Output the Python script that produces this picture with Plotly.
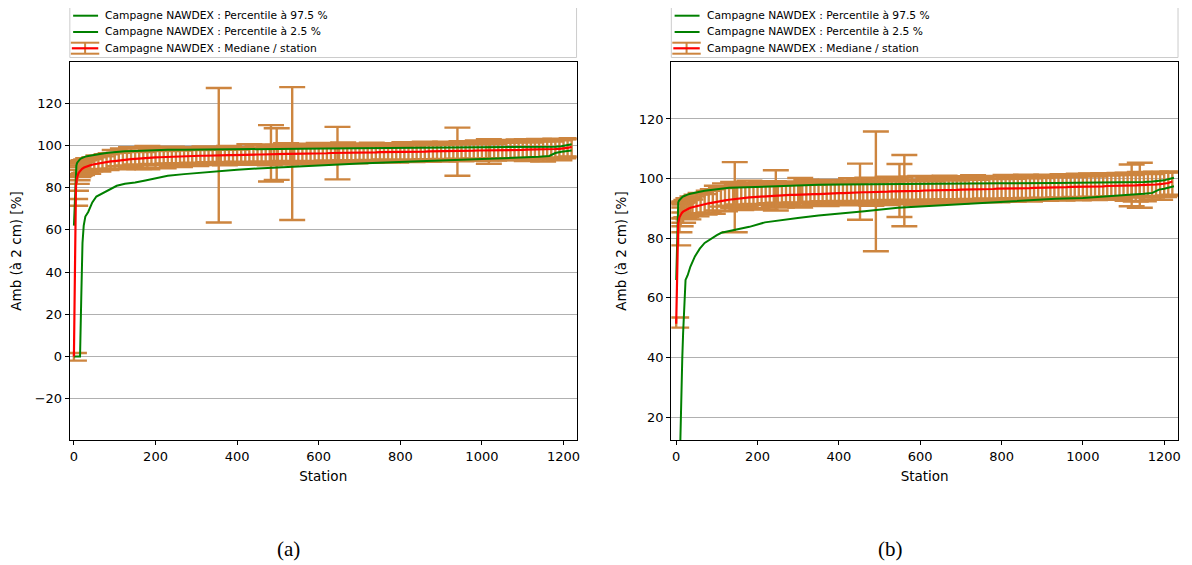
import plotly.graph_objects as go

# The page body has an 8 px margin: the figure is drawn 8 px right/down of the window corner.
OFF = 8
W, H = 1192 - OFF, 565 - OFF
ORANGE = "#CD853F"
GREEN = "#008000"
RED = "#FF0000"
FONT = "DejaVu Sans"


def px(x):
    return (x - OFF) / W


def py(y):
    return 1 - (y - OFF) / H


# ---------------- Panel (a) ----------------
st_a = [0, 3, 5, 7, 9, 11, 14, 17, 20, 25, 30, 35, 40, 50, 60, 70, 80, 90] + list(range(100, 1221, 10))
med_a = [0.0, 73.0, 80.8, 84.2, 85.8, 86.8, 87.6, 88.3, 88.9, 89.5, 89.9, 90.3, 90.6, 91.1, 91.5, 91.8, 92.1, 92.4,
         92.6, 92.9, 93.1, 93.3, 93.5, 93.6, 93.8, 93.9, 94.0, 94.1,
         94.3, 94.4, 94.5, 94.6, 94.6, 94.7, 94.8, 94.8, 94.9, 95.0,
         95.0, 95.1, 95.1, 95.2, 95.2, 95.3, 95.3, 95.4, 95.4, 95.4,
         95.5, 95.5, 95.6, 95.6, 95.6, 95.7, 95.7, 95.8, 95.8, 95.8,
         95.9, 95.9, 96.0, 96.0, 96.0, 96.1, 96.1, 96.2, 96.2, 96.2,
         96.3, 96.3, 96.3, 96.4, 96.4, 96.4, 96.5, 96.5, 96.5, 96.6,
         96.6, 96.6, 96.7, 96.7, 96.7, 96.8, 96.8, 96.8, 96.9, 96.9,
         96.9, 97.0, 97.0, 97.0, 97.1, 97.1, 97.1, 97.2, 97.2, 97.2,
         97.3, 97.3, 97.3, 97.4, 97.4, 97.4, 97.5, 97.5, 97.5, 97.6,
         97.6, 97.6, 97.7, 97.7, 97.7, 97.8, 97.8, 97.8, 97.9, 97.9,
         97.9, 98.0, 98.0, 98.0, 98.1, 98.1, 98.2, 98.2, 98.3, 98.4,
         98.5, 98.8, 99.3]
lo_a = [-1.9, 71.4, 78.5, 81.8, 83.5, 85.0, 85.6, 86.3, 86.0, 86.8, 87.2, 86.5, 87.8, 88.0, 87.6, 88.8, 88.3, 89.0,
        89.0, 90.2, 88.7, 90.5, 89.9, 91.0, 88.8, 90.6, 88.7, 91.2,
        89.5, 90.8, 89.2, 91.4, 90.1, 91.6, 89.8, 91.0, 90.4, 91.8,
        90.2, 91.5, 90.7, 92.0, 90.9, 91.3, 92.2, 90.6, 91.7, 91.0,
        92.3, 91.2, 90.8, 92.1, 91.6, 90.9, 92.4, 91.4, 90.6, 92.0,
        91.3, 92.6, 90.9, 91.8, 92.3, 91.1, 92.7, 91.6, 92.1, 91.0,
        92.5, 91.7, 92.9, 91.3, 92.2, 91.8, 93.0, 91.9, 92.4, 91.5,
        92.8, 92.0, 93.1, 91.8, 92.6, 92.2, 93.3, 92.0, 92.8, 91.9,
        93.0, 92.3, 93.4, 92.1, 92.9, 92.5, 93.5, 92.2, 93.1, 92.6,
        93.6, 92.4, 93.2, 92.8, 93.7, 92.5, 93.3, 92.9, 93.8, 92.7,
        93.4, 93.0, 93.9, 92.8, 93.5, 93.1, 94.0, 92.9, 93.6, 93.2,
        94.1, 92.6, 93.7, 93.3, 94.2, 92.4, 93.8, 93.4, 94.3, 93.0,
        93.9, 94.5, 94.8]
hi_a = [1.7, 74.6, 86.5, 88.3, 89.6, 90.5, 91.4, 92.2, 92.8, 93.0, 93.4, 93.9, 93.5, 94.4, 95.2, 94.8, 95.8, 96.3,
        97.8, 96.5, 98.6, 97.2, 99.2, 97.6, 98.9, 96.9, 99.8, 98.1,
        97.4, 99.0, 98.2, 97.3, 99.4, 98.0, 97.6, 98.8, 97.9, 99.1,
        98.3, 97.8, 99.5, 98.4, 97.9, 99.0, 98.6, 98.1, 99.7, 98.5,
        98.0, 99.3, 98.7, 100.6, 98.4, 99.9, 98.9, 100.4, 99.1, 98.6,
        100.2, 99.4, 101.0, 98.8, 99.8, 100.5, 99.2, 98.9, 100.8, 99.6,
        101.2, 99.3, 100.1, 99.0, 100.7, 99.5, 101.4, 99.8, 100.3, 99.2,
        100.9, 99.7, 100.2, 101.3, 99.6, 100.6, 99.9, 101.1, 100.0, 100.8,
        99.7, 101.5, 100.4, 99.9, 101.0, 100.5, 101.7, 100.1, 100.9, 101.3,
        100.3, 101.8, 100.7, 101.2, 100.5, 102.0, 100.9, 101.4, 100.6, 102.3,
        101.1, 101.6, 102.4, 100.8, 101.9, 102.6, 101.2, 102.1, 101.5, 102.8,
        101.7, 102.9, 101.4, 102.5, 103.1, 102.0, 102.7, 101.8, 103.2, 102.4,
        102.9, 103.0, 103.4]

out_st_a = [355, 483, 497, 535, 646, 940, 1017]
out_med_a = [95.3, 95.8, 95.9, 96.0, 96.4, 97.4, 97.6]
out_lo_a = [63.5, 82.9, 83.7, 64.7, 83.9, 85.6, 91.3]
out_hi_a = [127.2, 109.6, 108.1, 127.6, 108.8, 108.4, 102.9]

pst_a = [0, 3, 6, 8, 10, 12, 15, 18, 21, 24, 28, 35, 45, 55, 65, 75, 90, 105, 125, 150, 175, 200, 230, 270,
         310, 350, 400, 450, 500, 560, 620, 700, 780, 850, 920, 1000, 1080, 1140, 1165, 1180, 1195, 1210, 1220]
p975_a = [62, 80, 90.5, 91.8, 92.4, 92.9, 93.5, 93.9, 94.2, 94.4, 94.7, 95.0, 95.4, 95.7, 96.0, 96.3, 96.6,
          97.0, 97.2, 97.4, 97.6, 97.8, 97.9, 98.0, 98.1, 98.2, 98.25, 98.3, 98.35, 98.4, 98.5, 98.6, 98.7,
          98.75, 98.8, 98.9, 99.0, 99.1, 99.3, 99.4, 99.6, 100.0, 100.6]
p025_a = [0, 0, 0, 0, 0, 0, 0, 28, 53.8, 62, 66.3, 68.5, 73, 75.8, 76.8, 77.8, 79.2, 80.9, 81.8, 82.4, 83.4,
          84.4, 85.6, 86.4, 87.1, 87.8, 88.5, 89.1, 89.6, 90.2, 90.8, 91.4, 92.0, 92.5, 93.0, 93.5, 94.0,
          94.6, 95.0, 96.4, 97.0, 97.3, 97.6]

# ---------------- Panel (b) ----------------
st_b = [0, 2, 5, 8, 11, 14, 17, 20, 25, 30, 35, 40, 50, 60, 70, 80, 90] + list(range(100, 1221, 10))
med_b = [51.3, 66.0, 85.0, 87.0, 88.0, 88.5, 88.9, 89.2, 89.6, 89.9, 90.2, 90.4, 90.8, 91.1, 91.4, 91.7, 92.0,
         92.2, 92.5, 92.7, 92.9, 93.1, 93.3, 93.4, 93.5, 93.7, 93.8,
         93.9, 94.0, 94.1, 94.2, 94.2, 94.3, 94.4, 94.4, 94.5, 94.5,
         94.6, 94.6, 94.7, 94.7, 94.8, 94.8, 94.9, 94.9, 95.0, 95.0,
         95.1, 95.1, 95.2, 95.2, 95.3, 95.3, 95.4, 95.4, 95.4, 95.5,
         95.5, 95.6, 95.6, 95.7, 95.7, 95.7, 95.8, 95.8, 95.9, 95.9,
         95.9, 96.0, 96.0, 96.0, 96.1, 96.1, 96.1, 96.2, 96.2, 96.2,
         96.3, 96.3, 96.3, 96.4, 96.4, 96.4, 96.5, 96.5, 96.5, 96.6,
         96.6, 96.6, 96.7, 96.7, 96.7, 96.8, 96.8, 96.8, 96.9, 96.9,
         96.9, 97.0, 97.0, 97.0, 97.1, 97.1, 97.1, 97.2, 97.2, 97.2,
         97.3, 97.3, 97.3, 97.4, 97.4, 97.4, 97.5, 97.5, 97.5, 97.6,
         97.6, 97.6, 97.7, 97.7, 97.8, 97.8, 97.9, 97.9, 98.0, 98.1,
         98.2, 98.5, 99.0]
lo_b = [50.0, None, 77.6, 82.0, 84.0, 86.6, 85.2, 86.8, 87.0, 86.3, 87.6, 88.0, 87.3, 88.4, 87.9, 88.6, 88.2,
        89.3, 90.6, 89.0, 90.9, 90.2, 91.3, 89.4, 90.8, 89.8, 91.5,
        90.1, 91.2, 89.6, 91.7, 90.5, 91.9, 90.3, 91.4, 90.7, 92.0,
        90.6, 91.8, 90.9, 92.2, 91.1, 91.6, 92.4, 90.8, 91.9, 91.3,
        92.5, 91.4, 91.0, 92.3, 91.8, 91.2, 92.6, 91.6, 90.9, 92.2,
        91.5, 92.8, 91.1, 92.0, 92.5, 91.4, 92.9, 91.8, 92.3, 91.2,
        92.7, 91.9, 93.0, 91.5, 92.4, 92.0, 93.1, 92.1, 92.6, 91.7,
        92.9, 92.2, 93.2, 92.0, 92.7, 92.3, 93.3, 92.1, 92.9, 92.0,
        93.1, 92.4, 93.4, 92.2, 93.0, 92.6, 93.5, 92.3, 93.1, 92.7,
        93.6, 92.5, 93.2, 92.8, 93.7, 92.6, 93.3, 92.9, 93.8, 92.7,
        93.4, 93.0, 93.9, 92.8, 93.5, 93.1, 94.0, 92.9, 93.6, 93.2,
        94.0, 92.5, 93.6, 92.3, 94.1, 92.4, 93.7, 93.0, 94.2, 92.9,
        93.8, 94.3, 94.6]
hi_b = [53.4, None, 88.6, 90.3, 91.3, 91.8, 92.3, 92.0, 92.8, 93.4, 93.0, 94.0, 94.6, 95.2, 94.8, 95.9, 96.4,
        97.6, 96.8, 98.4, 97.3, 98.9, 97.9, 98.6, 97.2, 99.3, 98.1,
        97.7, 98.8, 98.2, 97.5, 99.1, 98.0, 97.8, 98.7, 98.1, 99.0,
        98.4, 97.9, 99.6, 98.5, 98.0, 99.2, 98.7, 98.2, 99.5, 98.6,
        98.3, 99.4, 98.8, 100.1, 98.6, 99.7, 99.0, 100.3, 99.2, 98.8,
        100.0, 99.4, 100.6, 99.0, 99.8, 100.4, 99.3, 99.1, 100.7, 99.6,
        100.9, 99.4, 100.2, 99.1, 100.5, 99.6, 101.0, 99.8, 100.3, 99.3,
        100.8, 99.7, 100.2, 101.1, 99.6, 100.5, 99.9, 100.9, 100.0, 100.7,
        99.8, 101.2, 100.3, 99.9, 100.9, 100.4, 101.3, 100.1, 100.8, 101.0,
        100.2, 101.3, 100.6, 101.0, 100.4, 101.5, 100.8, 101.1, 100.5, 101.6,
        100.9, 101.3, 101.7, 100.7, 101.4, 101.8, 101.0, 101.5, 101.2, 101.9,
        101.4, 102.0, 101.2, 101.8, 102.2, 101.6, 102.1, 101.5, 102.3, 101.9,
        102.2, 102.0, 102.4]

out_st_b = [144, 245, 305, 452, 491, 549, 561, 1120, 1140]
out_med_b = [93.2, 94.3, 94.6, 95.3, 95.5, 95.7, 95.8, 97.7, 97.8]
out_lo_b = [82.0, 89.3, 90.3, 86.2, 75.6, 87.1, 84.0, 90.7, 90.2]
out_hi_b = [105.5, 102.8, 100.2, 105.0, 115.8, 104.9, 107.9, 104.7, 105.3]

pst_b = [0, 3, 5, 7, 9, 11, 13, 15, 17, 20, 23, 28, 35, 46, 58, 70, 85, 100, 111, 130, 152, 180, 218, 260,
         299, 350, 400, 463, 545, 606, 700, 800, 933, 1000, 1097, 1150, 1171, 1187, 1200, 1210, 1224]
p975_b = [66, 88.5, 92.0, 92.6, 93.0, 93.3, 93.6, 93.8, 94.0, 94.2, 94.4, 94.6, 94.9, 95.3, 95.6, 95.9, 96.2,
          96.5, 96.7, 96.9, 97.0, 97.15, 97.3, 97.45, 97.6, 97.9, 98.0, 98.1, 98.2, 98.3, 98.35, 98.4, 98.5,
          98.55, 98.75, 98.85, 99.0, 99.2, 99.4, 99.8, 100.3]
p025_b = [0, 0, 0, 0, 5, 20, 28, 40, 48, 56, 66, 67.5, 70.5, 73.9, 76.5, 78.4, 79.8, 81.0, 81.8, 82.4, 82.9,
          83.8, 85.3, 86.2, 86.8, 87.6, 88.2, 89.0, 90.2, 90.7, 91.4, 92.1, 93.2, 93.5, 94.3, 94.9, 95.2,
          96.3, 96.6, 96.9, 97.4]

for arrs in [(st_a, med_a, lo_a, hi_a), (st_b, med_b, lo_b, hi_b), (pst_a, p975_a, p025_a), (pst_b, p975_b, p025_b)]:
    assert len(set(len(a) for a in arrs)) == 1, [len(a) for a in arrs]

legend_labels = ["Campagne NAWDEX : Percentile à 97.5 %",
                 "Campagne NAWDEX : Percentile à 2.5 %",
                 "Campagne NAWDEX : Mediane / station"]


def err_trace(x, med, lo, hi, xa, ya):
    # stations without a whisker value get no error bar at all
    keep = [i for i in range(len(x)) if lo[i] is not None and hi[i] is not None]
    xs = [x[i] for i in keep]
    ms = [med[i] for i in keep]
    plus = [hi[i] - med[i] for i in keep]
    minus = [med[i] - lo[i] for i in keep]
    return go.Scatter(x=xs, y=ms, mode="markers", marker=dict(size=1, color="rgba(0,0,0,0)"),
                      error_y=dict(type="data", symmetric=False, array=plus, arrayminus=minus,
                                   color=ORANGE, thickness=2.4, width=13),
                      showlegend=False, hoverinfo="skip", xaxis=xa, yaxis=ya)


fig = go.Figure()
for (st, med, lo, hi, ost, omed, olo, ohi, pst, p975, p025, xa, ya) in [
    (st_a, med_a, lo_a, hi_a, out_st_a, out_med_a, out_lo_a, out_hi_a, pst_a, p975_a, p025_a, "x", "y"),
    (st_b, med_b, lo_b, hi_b, out_st_b, out_med_b, out_lo_b, out_hi_b, pst_b, p975_b, p025_b, "x2", "y2"),
]:
    fig.add_trace(err_trace(st, med, lo, hi, xa, ya))
    fig.add_trace(err_trace(ost, omed, olo, ohi, xa, ya))
    fig.add_trace(go.Scatter(x=pst, y=p975, mode="lines", line=dict(color=GREEN, width=2),
                             name=legend_labels[0], xaxis=xa, yaxis=ya, showlegend=False))
    fig.add_trace(go.Scatter(x=pst, y=p025, mode="lines", line=dict(color=GREEN, width=2),
                             name=legend_labels[1], xaxis=xa, yaxis=ya, showlegend=False))
    fig.add_trace(go.Scatter(x=st, y=med, mode="lines", line=dict(color=RED, width=2.2),
                             name=legend_labels[2], xaxis=xa, yaxis=ya, showlegend=False))

# ---- hand-drawn matplotlib-style legends (frame, symbols, labels) ----
shapes, annotations = [], []
row_y = [15.7, 32.0, 48.3]
for dx in (0, 603):
    shapes.append(dict(type="rect", xref="paper", yref="paper", x0=px(70 + dx), x1=px(578 + dx),
                       y0=py(57.5), y1=py(6), line=dict(color="#cccccc", width=1), fillcolor="white", layer="below"))
    for i, lab in enumerate(legend_labels):
        yy = py(row_y[i])
        if i < 2:
            shapes.append(dict(type="line", xref="paper", yref="paper", x0=px(73.3 + dx), x1=px(98.3 + dx),
                               y0=yy, y1=yy, line=dict(color=GREEN, width=2)))
        else:
            for cy in (42.7, 53.7):
                shapes.append(dict(type="line", xref="paper", yref="paper", x0=px(71 + dx), x1=px(99.5 + dx),
                                   y0=py(cy), y1=py(cy), line=dict(color=ORANGE, width=2)))
            shapes.append(dict(type="line", xref="paper", yref="paper", x0=px(85.3 + dx), x1=px(85.3 + dx),
                               y0=py(42.7), y1=py(53.7), line=dict(color=ORANGE, width=2)))
            shapes.append(dict(type="line", xref="paper", yref="paper", x0=px(72 + dx), x1=px(98.5 + dx),
                               y0=yy, y1=yy, line=dict(color=RED, width=2.2)))
        annotations.append(dict(text=lab, x=px(103.5 + dx), y=yy, xref="paper", yref="paper", showarrow=False,
                                xanchor="left", yanchor="middle", font=dict(size=10.7, color="black", family=FONT)))

for lab, cx in (("(a)", 289), ("(b)", 893)):
    annotations.append(dict(text=lab, x=px(cx), y=py(549), xref="paper", yref="paper", showarrow=False,
                            xanchor="center", yanchor="middle",
                            font=dict(family="Liberation Serif", size=21, color="black")))

ydom = [py(440), py(62)]
common_x = dict(showgrid=False, zeroline=False, showline=True, mirror=True, linecolor="black", linewidth=1.2,
                ticks="outside", ticklen=4, tickcolor="black", tickfont=dict(size=13, color="black"),
                tickvals=[0, 200, 400, 600, 800, 1000, 1200],
                title=dict(text="Station", font=dict(size=13.5, color="black"), standoff=8))
common_y = dict(showgrid=True, gridcolor="#b0b0b0", gridwidth=1, zeroline=False, showline=True, mirror=True,
                linecolor="black", linewidth=1.2, ticks="outside", ticklen=4, tickcolor="black",
                tickfont=dict(size=13, color="black"), automargin=False,
                title=dict(text="Amb (à 2 cm) [%]", font=dict(size=13.5, color="black"), standoff=9))

fig.update_layout(
    width=W, height=H, margin=dict(l=0, r=0, t=0, b=0),
    paper_bgcolor="white", plot_bgcolor="white",
    font=dict(family=FONT, color="black"),
    showlegend=False,
    xaxis=dict(domain=[px(70), px(578)], range=[-10, 1232], anchor="y", **common_x),
    yaxis=dict(domain=ydom, range=[-39.5, 139.5], anchor="x", tickvals=[-20, 0, 20, 40, 60, 80, 100, 120], **common_y),
    xaxis2=dict(domain=[px(673), px(1181)], range=[-12, 1234], anchor="y2", **common_x),
    yaxis2=dict(domain=ydom, range=[12.3, 139.1], anchor="x2", tickvals=[20, 40, 60, 80, 100, 120], **common_y),
    shapes=shapes,
    annotations=annotations,
)

fig.write_html("out.html")
